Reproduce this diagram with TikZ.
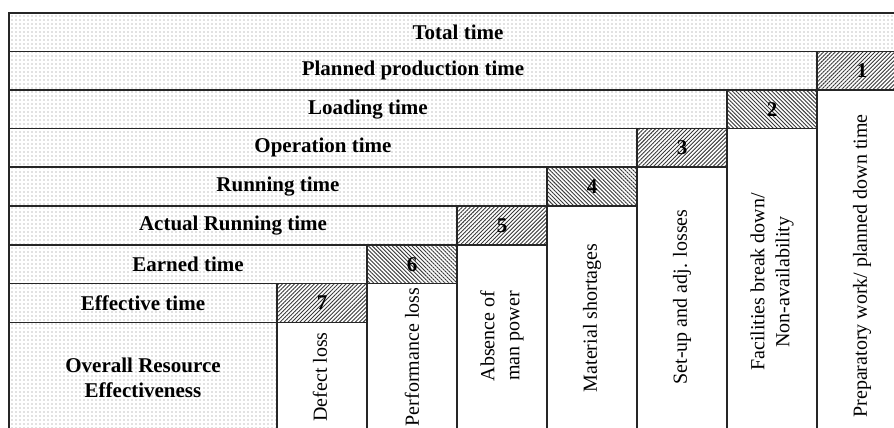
\documentclass[tikz,border=0pt]{standalone}
\usepackage{fontspec}
\setmainfont{Liberation Serif}
\usetikzlibrary{patterns.meta}

\tikzset{
  bar/.style={draw=gray!30!black, line width=0.7pt, pattern={Dots[distance=2pt, radius=0.3pt]}, pattern color=gray},
  lossa/.style={draw=gray!30!black, line width=0.7pt, preaction={fill=white}, pattern={Lines[angle=45, distance=1.4pt, line width=0.45pt]}, pattern color=gray!45!black},
  lossb/.style={lossa, pattern={Lines[angle=-45, distance=1.4pt, line width=0.45pt]}},
  col/.style={draw=gray!30!black, line width=0.7pt, fill=white},
  head/.style={font=\fontsize{10.5}{12.5}\selectfont\bfseries, align=center},
  num/.style={font=\fontsize{10.5}{12.5}\selectfont\bfseries},
  vlab/.style={font=\fontsize{10}{12.5}\selectfont, rotate=90, align=center}
}

\begin{document}
\begin{tikzpicture}[x=0.5pt, y=-0.5pt]
    \useasboundingbox (0,0) rectangle (894,428);
    \clip (0,0) rectangle (894,428);

    % time bars
    \draw[bar] (9,13) rectangle (907,51.5);
    \draw[bar] (9,51.5) rectangle (817,90);
    \draw[bar] (9,90) rectangle (727,128.5);
    \draw[bar] (9,128.5) rectangle (637,167);
    \draw[bar] (9,167) rectangle (547,206);
    \draw[bar] (9,206) rectangle (457,245);
    \draw[bar] (9,245) rectangle (367,283.5);
    \draw[bar] (9,283.5) rectangle (277,322.5);
    \draw[bar] (9,322.5) rectangle (277,440);

    \node[head] (tot) at (458,32.25) {Total time};
    \node[head] (ppt) at (413,70.75) {Planned production time};
    \node[head] (lt)  at (368,109.25) {Loading time};
    \node[head] (ot)  at (323,147.75) {Operation time};
    \node[head] (rt)  at (278,186.5) {Running time};
    \node[head] (art) at (233,225.5) {Actual Running time};
    \node[head] (et)  at (188,264.25) {Earned time};
    \node[head] (eft) at (143,303) {Effective time};
    \node[head] (ore) at (143,378) {Overall Resource\\Effectiveness};

    % loss cells
    \draw[lossa] (817,51.5) rectangle (907,90);
    \draw[lossb] (727,90) rectangle (817,128.5);
    \draw[lossa] (637,128.5) rectangle (727,167);
    \draw[lossb] (547,167) rectangle (637,206);
    \draw[lossa] (457,206) rectangle (547,245);
    \draw[lossb] (367,245) rectangle (457,283.5);
    \draw[lossa] (277,283.5) rectangle (367,322.5);

    \node[num] (n1) at (862,70.75) {1};
    \node[num] (n2) at (772,109.25) {2};
    \node[num] (n3) at (682,147.75) {3};
    \node[num] (n4) at (592,186.5) {4};
    \node[num] (n5) at (502,225.5) {5};
    \node[num] (n6) at (412,264.25) {6};
    \node[num] (n7) at (322,303) {7};

    % loss columns
    \draw[col] (817,90) rectangle (907,440);
    \draw[col] (727,128.5) rectangle (817,440);
    \draw[col] (637,167) rectangle (727,440);
    \draw[col] (547,206) rectangle (637,440);
    \draw[col] (457,245) rectangle (547,440);
    \draw[col] (367,283.5) rectangle (457,440);
    \draw[col] (277,322.5) rectangle (367,440);

    \node[vlab] (l1) at (862,266) {Preparatory work/ planned down time};
    \node[vlab] (l2) at (772,282) {Facilities break down/\\Non-availability};
    \node[vlab] (l3) at (682,297) {Set-up and adj. losses};
    \node[vlab] (l4) at (592,318) {Material shortages};
    \node[vlab] (l5) at (502,336) {Absence of\\man power};
    \node[vlab] (l6) at (412,357) {Performance loss};
    \node[vlab] (l7) at (320,377) {Defect loss};
\end{tikzpicture}
\end{document}
